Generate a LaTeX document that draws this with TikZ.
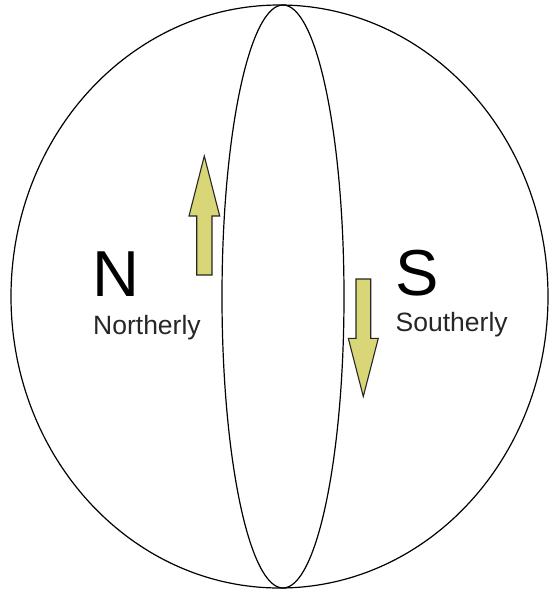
\documentclass[tikz,border=0pt]{standalone}
\usepackage{fontspec}
\setmainfont{Liberation Sans}
\definecolor{arrowfill}{RGB}{216,214,118}
\begin{document}
\begin{tikzpicture}[x=1pt,y=-1pt,
  outline/.style={draw=black,line width=1.2pt},
  blockarrow/.style={draw=black!85,fill=arrowfill,line width=1.1pt,line join=miter},
  bigletter/.style={anchor=base west,inner sep=0pt,font=\fontsize{65}{65}\selectfont},
  smalllabel/.style={anchor=base west,inner sep=0pt,font=\fontsize{26.5}{26.5}\selectfont,text=black!85}]
\useasboundingbox (0,0) rectangle (549,590);
\draw[outline] (279.5,296.5) ellipse [x radius=268.5, y radius=291.5];
\draw[outline] (283,296.5) ellipse [x radius=61, y radius=291.5];
% up arrow
\draw[blockarrow] (196.7,275) -- (196.7,216) -- (189,216) -- (204.3,156) -- (219.7,216) -- (212,216) -- (212,275) -- cycle;
% down arrow
\draw[blockarrow] (356,279) -- (356,338.3) -- (348.3,338.3) -- (363.3,396.5) -- (378.3,338.3) -- (370.7,338.3) -- (370.7,279) -- cycle;
\node[bigletter] (n) at (92.4,296.7) {N};
\node[smalllabel] (nl) at (93,334.3) {Northerly};
\node[bigletter] (s) at (395,295.8) {S};
\node[smalllabel] (sl) at (395.5,331.7) {Southerly};
\end{tikzpicture}
\end{document}
